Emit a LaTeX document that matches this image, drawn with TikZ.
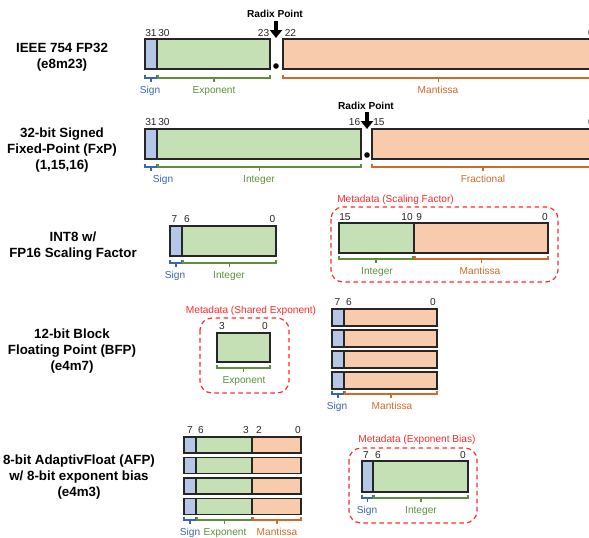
\documentclass[tikz,border=0pt]{standalone}
\usepackage{fontspec}
\setmainfont{Liberation Sans}
\usetikzlibrary{arrows.meta}

\definecolor{signfill}{HTML}{B4C7E7}
\definecolor{expfill}{HTML}{C5E0B4}
\definecolor{manfill}{HTML}{F8CBAD}
\definecolor{signblue}{HTML}{3A66B0}
\definecolor{expgreen}{HTML}{5E8F3E}
\definecolor{manorange}{HTML}{CF6A2A}
\definecolor{metared}{HTML}{FF2A2A}

% brace under a field: x1, x2, y, colour, label, label x
\newcommand{\fieldbrace}[6]{%
  \draw[brace_line, draw=#4] (#1,#3-3.5) -- (#1,#3) -- (#2,#3) -- (#2,#3-3.5);
  \draw[brace_line, draw=#4] ({(#1+#2)/2},#3) -- ({(#1+#2)/2},#3+4);
  \node[field_label, text=#4] at (#6,#3+15) {#5};%
}

\begin{document}
\begin{tikzpicture}[
    x=0.75pt, y=-0.75pt,
    >=stealth,
    % Styles
    field_box/.style={draw=black!85, line width=1.1pt},
    sign_field/.style={field_box, fill=signfill},
    exp_field/.style={field_box, fill=expfill},
    man_field/.style={field_box, fill=manfill},
    meta_box/.style={draw=metared, line width=0.9pt, dash pattern=on 3.5pt off 2.5pt, rounded corners=9pt},
    meta_label/.style={text=metared, font=\fontsize{7.6}{9}\selectfont, inner sep=0pt},
    bit_label/.style={font=\fontsize{7.6}{9}\selectfont, inner sep=0pt, text=black!85},
    field_label/.style={font=\fontsize{7.6}{9}\selectfont, inner sep=0pt, anchor=base},
    brace_line/.style={line width=0.8pt},
    format_title/.style={font=\fontsize{10}{12}\selectfont\bfseries, align=center},
    radix_arrow/.style={-{Triangle[length=6pt, width=9pt]}, line width=3pt},
    radix_label/.style={font=\fontsize{7.6}{9}\selectfont\bfseries, inner sep=0pt}
]
    \useasboundingbox (0,0) rectangle (589,537);
    \clip (0,0) rectangle (589,537);

    % ==========================================
    % 1. IEEE 754 FP32
    % ==========================================
    \node[format_title] (fp32) at (62,57) {IEEE 754 FP32\\(e8m23)};
    \draw[sign_field] (145,39) rectangle (157,69);
    \draw[exp_field] (157,39) rectangle (270,69);
    \draw[man_field] (283,39) rectangle (594,69);

    \node[bit_label, anchor=base west] at (145,36) {31};
    \node[bit_label, anchor=base west] at (158,36) {30};
    \node[bit_label, anchor=base east] at (269.5,36) {23};
    \node[bit_label, anchor=base west] at (284.5,36) {22};
    \node[bit_label, anchor=base east] at (594,36) {0};

    \node[radix_label] (radix1) at (275,14) {Radix Point};
    \draw[radix_arrow] (276,21) -- (276,38);
    \fill (276,66) circle (2.8);

    \fieldbrace{145}{157}{78}{signblue}{Sign}{150}
    \fieldbrace{158}{270}{78}{expgreen}{Exponent}{214}
    \fieldbrace{283}{594}{78}{manorange}{Mantissa}{438}

    % ==========================================
    % 2. 32-BIT SIGNED FIXED-POINT
    % ==========================================
    \node[format_title] (fxp) at (62,150) {32-bit Signed\\Fixed-Point (FxP)\\(1,15,16)};
    \draw[sign_field] (145,129) rectangle (157,159);
    \draw[exp_field] (157,129) rectangle (361,159);
    \draw[man_field] (372,129) rectangle (594,159);

    \node[bit_label, anchor=base west] at (145,125) {31};
    \node[bit_label, anchor=base west] at (158,125) {30};
    \node[bit_label, anchor=base east] at (360.5,125) {16};
    \node[bit_label, anchor=base west] at (373,125) {15};
    \node[bit_label, anchor=base east] at (594,125) {0};

    \node[radix_label] (radix2) at (366,106) {Radix Point};
    \draw[radix_arrow] (367,112) -- (367,129);
    \fill (367,155) circle (2.8);

    \fieldbrace{145}{157}{167}{signblue}{Sign}{163}
    \fieldbrace{158}{361}{167}{expgreen}{Integer}{259}
    \fieldbrace{372}{594}{167}{manorange}{Fractional}{483}

    % ==========================================
    % 3. INT8 WITH FP16 SCALING FACTOR
    % ==========================================
    \node[format_title] (int8) at (73,246) {INT8 w/\\FP16 Scaling Factor};
    \draw[sign_field] (170,226) rectangle (182,256);
    \draw[exp_field] (182,226) rectangle (276,256);

    \node[bit_label, anchor=base] at (174.5,222) {7};
    \node[bit_label, anchor=base] at (187,222) {6};
    \node[bit_label, anchor=base east] at (275.5,222) {0};

    \fieldbrace{170}{182}{263}{signblue}{Sign}{175}
    \fieldbrace{183}{276}{263}{expgreen}{Integer}{229}

    % Scaling factor metadata
    \draw[meta_box] (331,207) rectangle (558,282);
    \node[meta_label, anchor=base west] (meta1) at (337,202) {Metadata (Scaling Factor)};
    \draw[exp_field] (339,223) rectangle (414,253);
    \draw[man_field] (414,223) rectangle (548,253);

    \node[bit_label, anchor=base west] at (339,220) {15};
    \node[bit_label, anchor=base east] at (413,220) {10};
    \node[bit_label, anchor=base west] at (416,220) {9};
    \node[bit_label, anchor=base east] at (548,220) {0};

    \fieldbrace{339}{413}{259}{expgreen}{Integer}{377}
    \fieldbrace{415}{548}{259}{manorange}{Mantissa}{480}

    % ==========================================
    % 4. 12-BIT BLOCK FLOATING POINT
    % ==========================================
    \node[format_title] (bfp) at (72,351) {12-bit Block\\Floating Point (BFP)\\(e4m7)};

    % Shared exponent metadata
    \draw[meta_box] (200,318) rectangle (289,393);
    \node[meta_label, anchor=base] (meta2) at (251,313) {Metadata (Shared Exponent)};
    \draw[exp_field] (217,333) rectangle (270,362);
    \node[bit_label, anchor=base] at (222,329) {3};
    \node[bit_label, anchor=base] at (265,329) {0};
    \fieldbrace{217}{270}{368}{expgreen}{Exponent}{244}

    % Block of mantissas
    \foreach \r in {0,...,3} {
        \draw[sign_field] (332,309+21*\r) rectangle (344,326+21*\r);
        \draw[man_field] (344,309+21*\r) rectangle (437,326+21*\r);
    }
    \node[bit_label, anchor=base] at (337.5,305) {7};
    \node[bit_label, anchor=base] at (349,305) {6};
    \node[bit_label, anchor=base east] at (436,305) {0};

    \fieldbrace{332}{344}{394}{signblue}{Sign}{337}
    \fieldbrace{345}{437}{394}{manorange}{Mantissa}{392}

    % ==========================================
    % 5. 8-BIT ADAPTIVFLOAT
    % ==========================================
    \node[format_title] (afp) at (79,477) {8-bit AdaptivFloat (AFP)\\w/ 8-bit exponent bias\\(e4m3)};
    \foreach \r in {0,...,3} {
        \draw[sign_field] (184,437+20.5*\r) rectangle (196,453+20.5*\r);
        \draw[exp_field] (196,437+20.5*\r) rectangle (252,453+20.5*\r);
        \draw[man_field] (252,437+20.5*\r) rectangle (301,453+20.5*\r);
    }
    \node[bit_label, anchor=base] at (190,433) {7};
    \node[bit_label, anchor=base] at (201,433) {6};
    \node[bit_label, anchor=base] at (246,433) {3};
    \node[bit_label, anchor=base] at (259,433) {2};
    \node[bit_label, anchor=base] at (298,433) {0};

    \fieldbrace{184}{196}{520}{signblue}{Sign}{190}
    \fieldbrace{197}{252}{520}{expgreen}{Exponent}{225}
    \fieldbrace{253}{301}{520}{manorange}{Mantissa}{277}

    % Exponent bias metadata
    \draw[meta_box] (349,448) rectangle (477,523);
    \node[meta_label, anchor=base] (meta3) at (417,442) {Metadata (Exponent Bias)};
    \draw[sign_field] (362,461) rectangle (373,492);
    \draw[exp_field] (373,461) rectangle (468,492);
    \node[bit_label, anchor=base] at (366,458) {7};
    \node[bit_label, anchor=base] at (378,458) {6};
    \node[bit_label, anchor=base] at (463,458) {0};

    \fieldbrace{362}{373}{498}{signblue}{Sign}{367}
    \fieldbrace{374}{468}{498}{expgreen}{Integer}{421}

\end{tikzpicture}
\end{document}
